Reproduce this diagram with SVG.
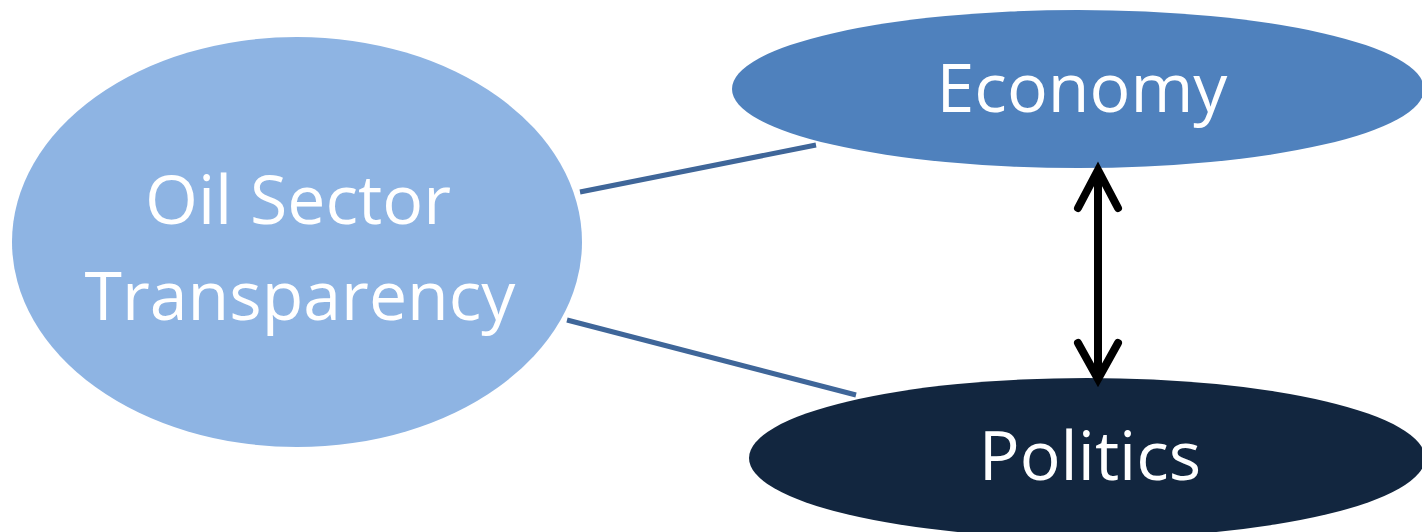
<svg xmlns="http://www.w3.org/2000/svg" width="1422" height="532" viewBox="0 0 1422 532">
<defs>
<style>
.lbl{font-family:"Open Sans","Liberation Sans",sans-serif;font-size:68px;fill:#ffffff;text-anchor:middle}
.link{stroke:#3F6699;stroke-width:5;fill:none}
.arrow{stroke:#000;stroke-width:8;fill:none;stroke-linecap:round;stroke-linejoin:miter}
</style>
</defs>
<rect width="1422" height="532" fill="#ffffff"/>
<g id="connectors">
<line class="link" x1="580" y1="192" x2="816" y2="145"/>
<line class="link" x1="567" y1="320" x2="856" y2="395"/>
</g>
<g id="oil">
<ellipse cx="297" cy="242" rx="285" ry="205" fill="#8EB4E3"/>
<text class="lbl" x="298" y="224">Oil Sector</text>
<text class="lbl" x="300" y="320">Transparency</text>
</g>
<g id="economy">
<ellipse cx="1078" cy="89" rx="346" ry="79" fill="#4F81BD"/>
<text class="lbl" x="1082" y="112">Economy</text>
</g>
<g id="politics">
<ellipse cx="1087" cy="458" rx="338" ry="80" fill="#12263F"/>
<text class="lbl" x="1090" y="480">Politics</text>
</g>
<g id="arrow">
<line class="arrow" x1="1098" y1="172" x2="1098" y2="376"/>
<polyline class="arrow" points="1078,208 1098,170 1118,208"/>
<polyline class="arrow" points="1078,343 1098,379 1118,343"/>
</g>
</svg>
